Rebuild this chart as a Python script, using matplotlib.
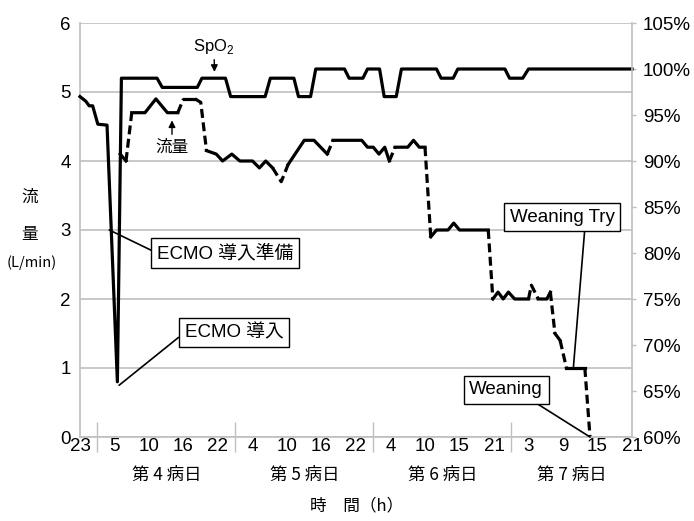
import matplotlib
matplotlib.use('Agg')
import matplotlib.pyplot as plt
import matplotlib.transforms as mtransforms

plt.rcParams['font.family'] = ['Liberation Sans', 'Noto Sans CJK JP']
plt.rcParams['mathtext.fontset'] = 'custom'
plt.rcParams['mathtext.rm'] = 'Liberation Sans'

# x axis: one category per reading, hour label every 6th reading
hour_labels = ['23', '5', '10', '16', '22', '4', '10', '16', '22',
               '4', '10', '15', '21', '3', '9', '15', '21']
day_labels = ['第 4 病日', '第 5 病日', '第 6 病日', '第 7 病日']
day_start = [3, 27, 51, 75]
n_cat = 97

# SpO2 (%) -> right axis
spo2_t = [0, 1, 1.6, 2.2, 3.1, 4.7, 6.5, 7.2, 13.4, 14.3, 20.4, 21.2, 25.3, 26.2,
          32.2, 33.1, 37.2, 38, 40.1, 41, 46, 46.8, 49.2, 50, 52.1, 52.9, 55,
          55.9, 62, 62.8, 64.9, 65.7, 73.9, 74.7, 77, 78, 96]
spo2_v = [97, 96.5, 96, 96, 94, 93.9, 66, 99, 99, 98, 98, 99, 99, 97,
          97, 99, 99, 97, 97, 100, 100, 99, 99, 100, 100, 97, 97,
          100, 100, 99, 99, 100, 100, 99, 99, 100, 100]

# ECMO flow (L/min) -> left axis
flow_t = [7, 8, 9, 11.3, 13.2, 15.2, 17, 18, 20, 21, 22, 23.7, 24.8, 26.4, 27.8,
          30, 31.2, 32.3, 33.5, 35, 36.2, 39, 40.7, 43, 44, 49, 50, 51, 52, 53,
          53.8, 54.8, 57, 58, 59, 60, 61, 62, 64, 65, 66, 71, 71.8, 72.7, 73.6,
          74.5, 75.6, 78, 78.5, 79.7, 81.2, 81.8, 82.6, 83.5, 84.6, 87.8, 88.7]
flow_v = [4.1, 4.0, 4.7, 4.7, 4.9, 4.7, 4.7, 4.9, 4.9, 4.85, 4.15, 4.1, 4.0, 4.1, 4.0,
          4.0, 3.9, 4.0, 3.9, 3.7, 3.95, 4.3, 4.3, 4.1, 4.3, 4.3, 4.2, 4.2, 4.1, 4.2,
          4.0, 4.2, 4.2, 4.3, 4.2, 4.2, 2.9, 3.0, 3.0, 3.1, 3.0, 3.0, 2.0, 2.1, 2.0,
          2.1, 2.0, 2.0, 2.2, 2.0, 2.0, 2.1, 1.5, 1.4, 1.0, 1.0, 0.0]
# segments (start index) drawn dashed
flow_dashed = [1, 6, 8, 9, 18, 19, 23, 30, 35, 41, 47, 48, 51, 53, 55]

W, H = 694, 521
gray = '#bfbfbf'

fig = plt.figure(figsize=(W / 100, H / 100), dpi=100)
ax = fig.add_axes([80 / W, (H - 437) / H, (632 - 80) / W, (437 - 23) / H])
ax2 = ax.twinx()

ax.set_xlim(0, n_cat - 1)
ax.set_ylim(0, 6)
ax2.set_ylim(60, 105)

ax.set_yticks(range(7))
ax.yaxis.grid(True, color=gray, lw=1.2)
ax.set_axisbelow(True)
ax.tick_params(axis='y', length=0, pad=6.5, labelsize=13.5)

ax2.set_yticks(range(60, 106, 5))
ax2.set_yticklabels(['{}%'.format(v) for v in range(60, 106, 5)])
ax2.tick_params(axis='y', length=3, width=1, color=gray, pad=5, labelsize=13.5)

ax.set_xticks(day_start)
ax.set_xticklabels([])
ax.tick_params(axis='x', which='major', direction='inout', length=21, width=1, color=gray)
ax.set_xticks(range(0, n_cat, 6), minor=True)
ax.set_xticklabels(hour_labels, minor=True)
ax.tick_params(axis='x', which='minor', length=0, pad=1, labelsize=13.5)

for a in (ax, ax2):
    for s in a.spines.values():
        s.set_color(gray)
        s.set_linewidth(1.2)
    a.spines['top'].set_visible(False)
ax.spines['right'].set_visible(False)
ax2.spines['left'].set_visible(False)
ax2.spines['bottom'].set_visible(False)

# day group labels
trans = mtransforms.blended_transform_factory(ax.transData, ax.transAxes)
ends = day_start[1:] + [n_cat - 1]
for lab, a, b in zip(day_labels, day_start, ends):
    ax.text((a + b) / 2, -0.092, lab, transform=trans, ha='center', va='center',
            fontsize=12.5, family='Noto Sans CJK JP')

# SpO2 line
ax2.plot(spo2_t, spo2_v, color='black', lw=2.3, clip_on=False)

# flow line, solid / dashed runs
k = 0
nseg = len(flow_t) - 1
while k < nseg:
    d = k in flow_dashed
    j = k
    while j + 1 < nseg and ((j + 1) in flow_dashed) == d:
        j += 1
    ls = (0, (2.8, 1.4)) if d else '-'
    ax.plot(flow_t[k:j + 2], flow_v[k:j + 2], color='black', lw=2.3, ls=ls,
            dash_capstyle='butt', clip_on=False)
    k = j + 1

# annotations
box = dict(boxstyle='square,pad=0.3', fc='white', ec='black', lw=1)
lead = dict(arrowstyle='-', color='black', lw=1.2, shrinkA=0, shrinkB=0)

ax2.annotate('ECMO 導入準備', xy=(5.1, 3.0), xycoords=ax.transData,
             xytext=(225, H - 253), textcoords='figure pixels', ha='center', va='center',
             fontsize=13.5, bbox=box, arrowprops=dict(lead, relpos=(0, 0.5)))
ax2.annotate('ECMO 導入', xy=(6.8, 0.75), xycoords=ax.transData,
             xytext=(234, H - 332.5), textcoords='figure pixels', ha='center', va='center',
             fontsize=13.5, bbox=box, arrowprops=dict(lead, relpos=(0, 0.5)))
ax2.annotate('Weaning Try', xy=(85.8, 1.0), xycoords=ax.transData,
             xytext=(562, H - 217), textcoords='figure pixels', ha='center', va='center',
             fontsize=13.5, bbox=box, arrowprops=dict(lead, relpos=(0.72, 0)))
ax2.annotate('Weaning', xy=(flow_t[-1], flow_v[-1]), xycoords=ax.transData,
             xytext=(506, H - 390), textcoords='figure pixels', ha='center', va='center',
             fontsize=13.5, bbox=box, arrowprops=dict(lead, relpos=(0.81, 0)))

arr = dict(arrowstyle='-|>', color='black', lw=1, mutation_scale=10, shrinkA=1)
ax2.annotate('SpO$_\\mathregular{2}$', xy=(23.4, 99), xytext=(214, H - 46),
             textcoords='figure pixels', ha='center', va='center', fontsize=12,
             arrowprops=dict(arr, shrinkB=4.5))
ax2.annotate('流量', xy=(16, 4.7), xycoords=ax.transData, xytext=(172, H - 147),
             textcoords='figure pixels', ha='center', va='center', fontsize=12,
             family='Noto Sans CJK JP', arrowprops=dict(arr, shrinkB=5.5))

# axis titles
fig.text(30 / W, 1 - 197.5 / H, '流', ha='center', va='center', fontsize=12,
         family='Noto Sans CJK JP')
fig.text(30 / W, 1 - 234 / H, '量', ha='center', va='center', fontsize=12,
         family='Noto Sans CJK JP')
fig.text(31.5 / W, 1 - 262.5 / H, '(L/min)', ha='center', va='center', fontsize=10.5,
         family='Noto Sans CJK JP')
fig.text(357 / W, 1 - 506 / H, '時\u3000間（h）', ha='center', va='center', fontsize=12,
         family='Noto Sans CJK JP')

plt.savefig('out.png', dpi=100)
